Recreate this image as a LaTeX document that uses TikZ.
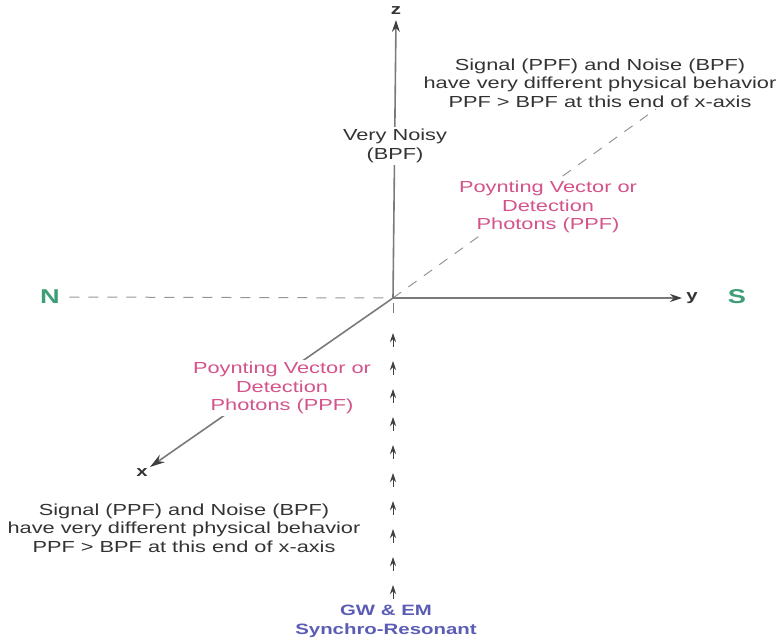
\documentclass[tikz,border=0pt]{standalone}
\usepackage{fontspec}
\setmainfont{Liberation Sans}[FakeStretch=1.36]
\usetikzlibrary{arrows.meta}
\definecolor{axisgray}{HTML}{7A7A7A}
\definecolor{textgray}{HTML}{333333}
\definecolor{pinktext}{HTML}{D4538A}
\definecolor{greentext}{HTML}{3E9E78}
\definecolor{bluetext}{HTML}{5B5DB5}
\begin{document}
\begin{tikzpicture}[x=1pt,y=-1pt,
    axis/.style={draw=axisgray,line width=1.6pt,-{Stealth[length=12pt,width=8pt,color=black!75]}},
    guide/.style={draw=axisgray!80,line width=1pt,dash pattern=on 10pt off 9pt},
    note/.style={text=textgray,align=center,font=\fontsize{16}{18.5}\selectfont},
    ppf/.style={note,text=pinktext,fill=white,inner sep=2pt},
    pole/.style={text=greentext,font=\fontsize{20}{22}\selectfont\bfseries},
    axlabel/.style={text=black!80,font=\fontsize{15}{16}\selectfont\bfseries},
    wave/.style={draw=black!75,line width=0.9pt,-{Stealth[length=9pt,width=6pt]}}]
    \useasboundingbox (0,0) rectangle (781,640);
    % Points of the axes
    \coordinate (O) at (393,298);
    \coordinate (zend) at (396,20);
    \coordinate (yend) at (682,298);
    \coordinate (xend) at (150,467);
    \coordinate (diag) at (656,109);

    % Poles and axis labels
    \node[pole] (N) at (50,297) {N};
    \node[pole] (S) at (737,297) {S};
    \node[axlabel] (zlab) at (396,11) {z};
    \node[axlabel] (ylab) at (692,298) {y};
    \node[axlabel] (xlab) at (142,473) {x};

    % Dashed guide lines
    \draw[guide] ([xshift=6pt]N.east) -- (O);
    \draw[guide] (O) -- (diag);

    % Axes
    \draw[axis] (O) -- (zend);
    \draw[axis] (O) -- (yend);
    \draw[axis,-{Stealth[length=15pt,width=9pt,color=black!75]}] (O) -- (xend);

    % Incoming GW & EM wave
    \draw[axisgray,line width=1pt] (393,303) -- (393,313);
    \foreach \y in {333,361,...,585}
    \draw[wave] (393,{\y+14}) -- (393,\y);

    % Texts
    \node[note,fill=white,inner sep=2pt] (noisy) at (395,146) {Very Noisy\\(BPF)};
    \node[ppf] (ppfright) at (548,207) {Poynting Vector or\\Detection\\Photons (PPF)};
    \node[ppf] (ppfleft) at (282,388) {Poynting Vector or\\Detection\\Photons (PPF)};
    \node[note] (farend) at (600,83) {Signal (PPF) and Noise (BPF)\\have very different physical behavior\\PPF > BPF at this end of x-axis};
    \node[note] (nearend) at (184,528) {Signal (PPF) and Noise (BPF)\\have very different physical behavior\\PPF > BPF at this end of x-axis};
    \node[text=bluetext,align=center,font=\fontsize{15}{19}\selectfont\bfseries] (gwem) at (386,621) {GW \& EM\\Synchro-Resonant};
\end{tikzpicture}
\end{document}
